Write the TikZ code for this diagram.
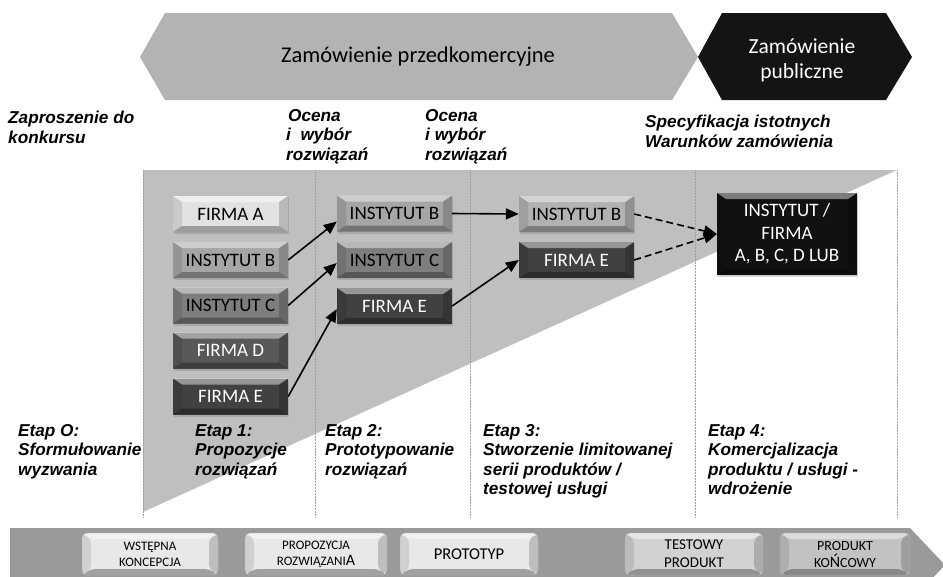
\documentclass[tikz,border=0pt]{standalone}
\usepackage{fontspec}
\setmainfont{Liberation Sans}
\newfontfamily\calfont{Carlito}
\usetikzlibrary{arrows.meta,shadows}
\definecolor{arrgray}{HTML}{B3B3B3}
\definecolor{regiongray}{HTML}{BFBFBF}
\definecolor{bandgray}{HTML}{9A9A9A}
\definecolor{darkarr}{HTML}{141414}
\definecolor{cA}{HTML}{E2E2E2}
\definecolor{cB}{HTML}{A6A6A6}
\definecolor{cBl}{HTML}{B2B2B2}
\definecolor{cC}{HTML}{7E7E7E}
\definecolor{cD}{HTML}{585858}
\definecolor{cE}{HTML}{414141}
\definecolor{cF}{HTML}{111111}
\definecolor{pl}{HTML}{E8E8E8}
\definecolor{pm}{HTML}{D2D2D2}
\definecolor{pd}{HTML}{C2C2C2}
\tikzset{
  bevel/.style={path picture={
    \fill[white,opacity=.45] (path picture bounding box.north west) -- (path picture bounding box.north east)
      -- ([shift={(-9pt,-6pt)}]path picture bounding box.north east) -- ([shift={(9pt,-6pt)}]path picture bounding box.north west) -- cycle;
    \fill[black,opacity=.30] (path picture bounding box.south west) -- (path picture bounding box.south east)
      -- ([shift={(-9pt,6pt)}]path picture bounding box.south east) -- ([shift={(9pt,6pt)}]path picture bounding box.south west) -- cycle;
    \fill[black,opacity=.10] (path picture bounding box.north west) -- ([shift={(9pt,-6pt)}]path picture bounding box.north west)
      -- ([shift={(9pt,6pt)}]path picture bounding box.south west) -- (path picture bounding box.south west) -- cycle;
    \fill[black,opacity=.18] (path picture bounding box.north east) -- ([shift={(-9pt,-6pt)}]path picture bounding box.north east)
      -- ([shift={(-9pt,6pt)}]path picture bounding box.south east) -- (path picture bounding box.south east) -- cycle;
  }},
  box/.style={bevel, draw=none, minimum width=115pt, minimum height=36pt, inner sep=0pt,
    font=\calfont\fontsize{19}{21}\selectfont,
    drop shadow={opacity=.35, shadow xshift=1pt, shadow yshift=-2pt}},
  pbox/.style={bevel, draw=gray!60, line width=.4pt, rounded corners=5pt, minimum height=42pt, inner sep=0pt,
    align=center, font=\calfont\fontsize{13}{16}\selectfont},
  lab/.style={anchor=north west, inner sep=0pt, align=left, font=\bfseries\itshape\fontsize{17.2}{19.5}\selectfont},
  divider/.style={gray!75, line width=.5pt, densely dotted},
  arr/.style={line width=1.6pt, -{Triangle[length=13pt,width=11pt]}},
  darr/.style={arr, dash pattern=on 7pt off 4pt}
}
\begin{document}
\begin{tikzpicture}[x=1pt,y=-1pt]
\useasboundingbox (0,0) rectangle (943,576);
% region
\fill[regiongray] (143,170) -- (897,170) -- (143,512) -- cycle;
\foreach \xx in {143,315,470,695,897} \draw[divider] (\xx,170) -- (\xx,517);
% top arrows
\fill[arrgray] (140,57) -- (165,13) -- (672,13) -- (698,57) -- (672,100) -- (165,100) -- cycle;
\fill[darkarr] (698,57) -- (722,13) -- (886,13) -- (912,57) -- (886,100) -- (722,100) -- cycle;
\node[font=\calfont\fontsize{22.5}{26}\selectfont] (pre) at (418,57) {Zamówienie przedkomercyjne};
\node[font=\calfont\fontsize{21.5}{25}\selectfont, text=white, align=center] (pub) at (802,60) {Zamówienie\\publiczne};
% labels
\node[lab] (zap) at (8,111) {Zaproszenie do\\konkursu};
\node[lab] (oc1) at (286,109) {\hspace{2pt}Ocena\\i\ \ wybór\\rozwiązań};
\node[lab] (oc2) at (425,109) {Ocena\\i wybór\\rozwiązań};
\node[lab] (spec) at (645,115) {Specyfikacja istotnych\\Warunków zamówienia};
\node[lab] (et0) at (18,424) {Etap O:\\Sformułowanie\\wyzwania};
\node[lab] (et1) at (195,424) {Etap 1:\\Propozycje\\rozwiązań};
\node[lab] (et2) at (325,424) {Etap 2:\\Prototypowanie\\rozwiązań};
\node[lab] (et3) at (483,424) {Etap 3:\\Stworzenie limitowanej\\serii produktów /\\testowej usługi};
\node[lab] (et4) at (708,424) {Etap 4:\\Komercjalizacja\\produktu / usługi -\\wdrożenie};
% boxes column 1
\node[box, fill=cA] (a1) at (230.5,214) {FIRMA A};
\node[box, fill=cB] (b1) at (230.5,260) {INSTYTUT B};
\node[box, fill=cC] (c1) at (230.5,305.5) {INSTYTUT C};
\node[box, fill=cD, text=white] (d1) at (230.5,350.5) {FIRMA D};
\node[box, fill=cE, text=white] (e1) at (230.5,396.5) {FIRMA E};
% column 2
\node[box, fill=cB] (b2) at (394.5,213.5) {INSTYTUT B};
\node[box, fill=cC] (c2) at (394.5,260) {INSTYTUT C};
\node[box, fill=cE, text=white] (e2) at (394.5,306) {FIRMA E};
% column 3
\node[box, fill=cBl] (b3) at (576.5,214) {INSTYTUT B};
\node[box, fill=cE, text=white] (e3) at (576.5,260) {FIRMA E};
% final
\node[box, fill=cF, text=white, minimum width=140pt, minimum height=82pt, align=center,
  font=\calfont\fontsize{19}{22.5}\selectfont] (fin) at (787,234) {INSTYTUT /\\FIRMA\\A, B, C, D LUB};
% connectors
\draw[arr] (b1.east) -- ([yshift=-8pt]b2.west);
\draw[arr] (c1.east) -- ([yshift=-3pt]c2.west);
\draw[arr] (e1.east) -- ([yshift=-3pt]e2.west);
\draw[arr] (b2.east) -- (b3.west);
\draw[arr] (e2.east) -- (e3.west);
\draw[darr] (b3.east) -- (fin.west);
\draw[darr] (e3.east) -- (fin.west);
% bottom band
\begin{scope}
\clip (0,0) rectangle (943,576);
\fill[bandgray] (10,528) -- (910,528) -- (945,565) -- (910,602) -- (10,602) -- cycle;
\end{scope}
\node[pbox, fill=pl, minimum width=136pt] (wst) at (150,554) {WSTĘPNA\\KONCEPCJA};
\node[pbox, fill=pl, minimum width=142pt] (prop) at (316,554) {PROPOZYCJA\\ROZWIĄZANI{\fontsize{16}{16}\selectfont A}};
\node[pbox, fill=pl, minimum width=138pt, font=\calfont\fontsize{16.5}{18}\selectfont] (proto) at (469,554) {PROTOTYP};
\node[pbox, fill=pm, minimum width=138pt, font=\calfont\fontsize{15}{18}\selectfont] (test) at (694,554) {TESTOWY\\PRODUKT};
\node[pbox, fill=pd, minimum width=130pt, font=\calfont\fontsize{14}{17}\selectfont] (kon) at (845,554) {PRODUKT\\KO{\fontsize{16}{16}\selectfont Ń}COWY};
\end{tikzpicture}
\end{document}
